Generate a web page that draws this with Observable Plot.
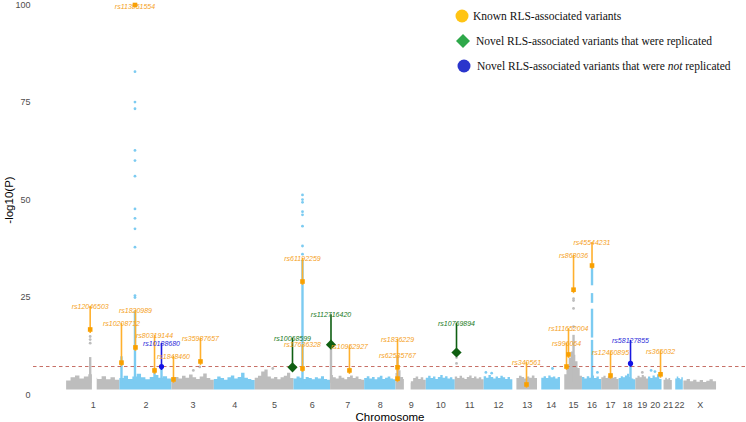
<!DOCTYPE html>
<html><head><meta charset="utf-8">
<script src="https://cdn.jsdelivr.net/npm/d3@7"></script>
<script src="https://cdn.jsdelivr.net/npm/@observablehq/plot@0.6"></script>
<style>
body{margin:0;background:#fff;}
#wrap{position:relative;width:746px;height:422px;overflow:hidden;}
#legend{position:absolute;left:0;top:0;}
</style></head><body><div id="wrap"><div id="chart"></div><svg id="legend" width="746" height="90"></svg></div>
<script>
// ---- data ----
const chromosomes = ["1","2","3","4","5","6","7","8","9","10","11","12","13","14","15","16","17","18","19","20","21","22","X"];
const chromLength = [249.25,243.2,198.0,191.15,180.9,171.1,159.1,146.4,141.2,135.5,135.0,133.85,115.2,107.35,102.5,90.35,81.2,78.1,59.1,63.0,48.1,51.3,155.3];
const dataStart   = [0.7,0,0,0,0,0,0,0,0,0,0,0,19.0,20.0,20.0,0,0,0,0,0,9.4,16.0,2.7];
const cloudBase = 1.3;
// top of the dense cloud of SNPs, read along each chromosome (-log10 P)
const cloudTops = [
  [3.6,4.4,4.9,4.1,4.6,5.2,4.3,4.0,4.7,3.9,4.4,3.8],
  [4.2,4.8,4.0,4.6,5.3,4.4,3.9,4.5,5.0,4.3,4.7,4.1],
  [3.9,4.5,4.1,4.8,4.3,5.1,4.4,4.0,4.6,5.4,4.2,3.8],
  [4.0,4.6,4.2,3.8,4.4,4.9,4.1,4.5,5.6,4.3,4.0,3.7],
  [4.3,4.8,5.9,6.4,4.6,4.1,4.5,3.9,4.4,4.8,5.6,4.2],
  [4.1,4.6,4.3,4.0,4.5,4.2,3.9,4.4,4.1,4.7,4.0,3.8],
  [5.0,4.4,4.1,4.8,4.3,3.9,4.5,4.9,4.2,4.6,4.0,3.8],
  [4.2,4.7,4.1,4.5,3.9,4.4,4.8,4.0,4.3,4.6,4.1,3.9],
  [5.5,6.2,4.5,4.0,3.2,3.0,3.4,4.2,4.6,4.0,4.4,3.8],
  [4.3,4.8,4.2,4.6,4.0,4.5,5.0,4.3,4.7,4.1,4.4,3.9],
  [4.6,4.2,4.8,4.3,4.0,4.5,4.9,4.2,4.6,4.1,4.4,3.9],
  [4.7,4.3,5.0,4.5,4.1,4.6,4.2,4.8,4.4,4.0,4.5,3.9],
  [4.2,4.8,4.5,4.1,4.6,4.3,4.9,4.2],
  [4.3,4.7,4.2,4.9,4.4,4.6,4.1,4.5],
  [5.2,7.0,9.5,11.0,10.2,8.5,6.8,4.8],
  [4.5,4.1,4.7,4.3,4.9,4.2,4.6,4.0],
  [4.4,4.8,4.2,4.6,5.0,4.3,4.5,4.0],
  [4.2,4.7,4.4,4.9,5.3,4.5,4.1,3.9],
  [4.3,4.8,4.4,5.0,4.6,4.1],
  [4.6,4.2,4.9,4.4,5.2,4.0],
  [3.8,4.3,3.9,4.2,3.7],
  [4.1,4.6,4.2,3.9,4.4],
  [3.6,4.0,3.4,3.8,3.3,3.7,3.2,3.5,3.9,3.4]
];
// regions without SNPs (centromeres)
const gapChr  = ["1","9"];
const gapFrom = [121.0,39.0];
const gapTo   = [143.5,70.5];
// dense columns of associated SNPs: chromosome, position (Mb), low, high
const spikeChr = ["1","2","2","2","2","6","7","9","15","16","16","16","16","18"];
const spikePos = [110.7,7.6,70.7,162,194.5,39.8,1.8,7.0,61.0,44.8,44.8,44.8,44.8,53.0];
const spikeLo  = [3,3,3,3,3,3,3,3,3,3,14.6,23.5,28.0,3];
const spikeHi  = [9.6,9.8,21.5,6.5,7.0,34.5,11.8,10.0,15.3,14.0,22.0,26.0,33.5,7.6];
// isolated SNPs above the cloud
const dotChr = ["1","1","1","2","2","2","2","2","2","2","2","2","2","2","2","6","6","6","6","6","6","6","6","11","11","15","15","15","15","3","3","5","12","12","14","19","20","16","20"];
const dotPos = [110.7,110.7,110.7,70.7,70.7,70.7,70.7,70.7,70.7,70.7,70.7,70.7,70.7,70.7,70.7,39.8,39.8,39.8,39.8,39.8,39.8,39.8,39.8,5.8,5.8,61,61,61,61,100,130,82,8,35,70,30,12,70,30];
const dotP   = [15.0,14.2,13.3,82.9,75.1,73.4,62.7,60.1,56.1,47.7,45.3,42.6,37.9,25.5,25.0,51.3,50.1,49.4,47.0,46.2,43.3,38.2,36.1,9.6,8.1,24.7,24.2,22.2,17.5,6.3,7.2,6.8,5.8,5.6,6.8,5.8,6.3,5.8,6.0];
const threshold = -Math.log10(5e-8);
// labelled variants
const snpId = ["rs113851554","rs12046503","rs10208712","rs1820989","rs80319144","rs10188680","rs1848460","rs35987657","rs10068599","rs17636328","rs61192259","rs112716420","rs10952927","rs1836229","rs62535767","rs10769894","rs340561","rs996064","rs111652004","rs868036","rs45544231","rs12450895","rs58127855","rs365032"];
const snpChr = ["2","1","2","2","2","2","3","3","5","6","6","7","7","9","9","11","13","15","15","15","16","17","18","20"];
const snpPos = [70.7,110.7,7.6,73.0,162.0,194.5,7.3,133.4,174.0,39.8,39.8,1.8,88.0,7.0,7.0,5.8,63.9,28.2,37.5,61.0,44.8,40.9,53.0,56.0];
const snpLogP = [100,16.8,8.3,12.2,6.3,7.3,4.0,8.6,7.1,6.8,29.1,12.9,6.3,7.1,4.2,10.9,2.7,7.3,10.4,27.0,33.2,5.0,8.1,5.3];
const snpLabelAt = [99.6,22.7,18.3,21.7,15.3,13.2,9.9,14.5,14.5,12.9,35.0,20.6,12.4,14.2,10.1,18.3,8.3,13.2,17.0,35.8,39.1,10.9,14.0,11.2];
const snpGroup = ["known","known","known","known","known","notrep","known","known","rep","known","known","rep","known","known","known","rep","known","known","known","known","known","known","notrep","known"];
const legendLabels = ["Known RLS-associated variants","Novel RLS-associated variants that were replicated","Novel RLS-associated variants that were "];

// ---- derived ----
const cumStart = chromLength.map((_, i) => d3.sum(chromLength.slice(0, i)));
const idx = c => chromosomes.indexOf(c);
const gx = (c, p) => cumStart[idx(c)] + p;
const GRAY = "#bdbdbd", BLUE = "#7ccbf1";
const chromColor = c => idx(c) % 2 === 0 ? GRAY : BLUE;
const centers = chromosomes.map((c, i) => cumStart[i] + (dataStart[i] + chromLength[i]) / 2);
const centerLabel = new Map(centers.map((v, i) => [v, chromosomes[i]]));

const cloud = [];
chromosomes.forEach((c, i) => {
  const tops = cloudTops[i], n = tops.length, s = dataStart[i], e = chromLength[i];
  for (let j = 0; j <= n; j++) cloud.push({chr: c, x: cumStart[i] + s + j * (e - s) / n, top: tops[Math.min(j, n - 1)]});
});
const gaps = gapChr.map((c, i) => ({chr: c, from: gapFrom[i], to: gapTo[i]}));
const spikes = spikeChr.map((c, i) => ({chr: c, pos: spikePos[i], lo: spikeLo[i], hi: spikeHi[i]}));
const dots = dotChr.map((c, i) => ({chr: c, pos: dotPos[i], p: dotP[i]}));
const snps = snpId.map((id, i) => ({id, chr: snpChr[i], pos: snpPos[i], logp: snpLogP[i], labelAt: snpLabelAt[i], group: snpGroup[i]}));

const lineColor = {known: "#ffb02e", rep: "#0f5f12", notrep: "#1a1ae0"};
const pointColor = {known: "#f9a000", rep: "#0f5f12", notrep: "#1212e6"};
const textColor = {known: "#f5a11c", rep: "#207a24", notrep: "#2b2bd9"};

const chart = Plot.plot({
  width: 746, height: 422,
  marginLeft: 33, marginRight: 0, marginTop: 4.5, marginBottom: 27.5,
  style: {fontFamily: "'Liberation Sans', Arial, sans-serif", background: "white"},
  x: {domain: [-154, 3176], axis: null},
  y: {domain: [0, 100], axis: null},
  marks: [
    Plot.areaY(cloud, {x: "x", y1: cloudBase, y2: "top", z: "chr", fill: d => chromColor(d.chr), curve: "step-after"}),
    Plot.rect(gaps, {x1: d => gx(d.chr, d.from), x2: d => gx(d.chr, d.to), y1: 0, y2: 7, fill: "white"}),
    Plot.ruleX(spikes, {x: d => gx(d.chr, d.pos), y1: "lo", y2: "hi", stroke: d => chromColor(d.chr), strokeWidth: 2.4}),
    Plot.dot(dots, {x: d => gx(d.chr, d.pos), y: "p", r: 1.4, fill: d => chromColor(d.chr), stroke: null}),
    Plot.ruleY([threshold], {stroke: "#b8473c", strokeWidth: 0.8, strokeDasharray: "3.5,3"}),
    Plot.ruleX(snps.filter(d => d.labelAt > d.logp), {x: d => gx(d.chr, d.pos), y1: "logp", y2: "labelAt", insetTop: 4, stroke: d => lineColor[d.group], strokeWidth: 1.6}),
    Plot.dot(snps.filter(d => d.group === "known"), {x: d => gx(d.chr, d.pos), y: "logp", symbol: "square", r: 2.6, fill: d => pointColor[d.group]}),
    Plot.dot(snps.filter(d => d.group === "notrep"), {x: d => gx(d.chr, d.pos), y: "logp", symbol: "circle", r: 2.6, fill: d => pointColor[d.group]}),
    Plot.dot(snps.filter(d => d.group === "rep"), {x: d => gx(d.chr, d.pos), y: "logp", symbol: "diamond2", r: 4.6, fill: d => pointColor[d.group]}),
    Plot.text(snps, {x: d => gx(d.chr, d.pos), y: "labelAt", text: "id", fill: d => textColor[d.group], fontSize: 7, fontStyle: "italic"}),
    Plot.axisY([0, 25, 50, 75, 100], {tickSize: 0, tickPadding: 3, fontSize: 9, color: "#4d4d4d", label: null}),
    Plot.axisX(centers, {tickSize: 0, tickPadding: 7, fontSize: 9, color: "#4d4d4d", tickFormat: d => centerLabel.get(d), label: null}),
    Plot.text(["Chromosome"], {frameAnchor: "bottom", lineAnchor: "middle", dy: 22.5, fontSize: 11.5, fill: "black"}),
    Plot.text(["-log10(P)"], {frameAnchor: "left", textAnchor: "middle", lineAnchor: "middle", rotate: -90, dx: -24, fontSize: 11.5, fill: "black"})
  ]
});
document.getElementById("chart").appendChild(chart);

// ---- legend ----
const lg = d3.select("#legend");
lg.append("circle").attr("cx", 462).attr("cy", 16).attr("r", 6.5).attr("fill", "#ffc414");
lg.append("path").attr("d", "M463,34 L470,41 L463,48 L456,41 Z").attr("fill", "#2ea84a");
lg.append("circle").attr("cx", 464).attr("cy", 66).attr("r", 6.5).attr("fill", "#2a35cc");
const tx = [473, 476, 477], ty = [16, 41, 66];
legendLabels.forEach((t, i) => {
  const el = lg.append("text").attr("x", tx[i]).attr("y", ty[i]).attr("dy", "0.35em")
    .attr("font-family", "'Liberation Serif','Times New Roman',serif").attr("font-size", 11.5).attr("fill", "#111").text(t);
  if (i === 2) { el.append("tspan").attr("font-style", "italic").text("not"); el.append("tspan").text(" replicated"); }
});
</script>
</body></html>
